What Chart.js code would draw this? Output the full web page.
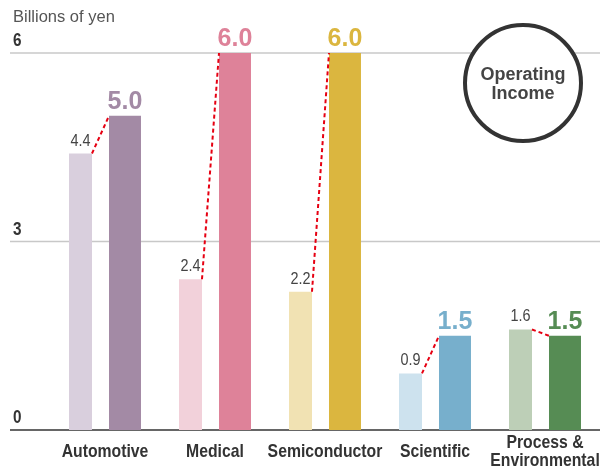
<!DOCTYPE html>
<html>
<head>
<meta charset="utf-8">
<script src="https://cdn.jsdelivr.net/npm/chart.js@4"></script>
<style>
  html, body { margin: 0; padding: 0; background: #fff; }
  #wrap { width: 612px; height: 471px; }
</style>
</head>
<body>
<div id="wrap"><canvas id="grafica"></canvas></div>
<script>
// datos
const categorias = ['Automotive', 'Medical', 'Semiconductor', 'Scientific', ['Process &', 'Environmental']];
const anterior = [4.4, 2.4, 2.2, 0.9, 1.6];
const actual = [5.0, 6.0, 6.0, 1.5, 1.5];
const ticksY = [0, 3, 6];

const coloresClaros = ['#d9cfdd', '#f2d1da', '#f1e2b3', '#cde2ee', '#bdcfb7'];
const coloresOscuros = ['#a38aa5', '#de8299', '#dbb63f', '#77afcc', '#568c54'];

const fuente = '"Liberation Sans", Arial, sans-serif';

// texto estrechado horizontalmente (no hay fuente condensada instalada)
function textoEstrecho(ctx, texto, x, y, escala) {
  ctx.save();
  ctx.translate(x, y);
  ctx.scale(escala, 1);
  ctx.fillText(texto, 0, 0);
  ctx.restore();
}

// fondo: rejilla, ticks y título del eje
const fondoPlugin = {
  id: 'fondo',
  beforeDatasetsDraw(chart) {
    const ctx = chart.ctx;
    const y = chart.scales.y;
    ctx.save();
    ticksY.forEach(function(v) {
      const py = y.getPixelForValue(v);
      ctx.beginPath();
      ctx.moveTo(10, py);
      ctx.lineTo(600, py);
      ctx.lineWidth = 1.5;
      ctx.strokeStyle = v === 0 ? '#333333' : '#c8c8c8';
      ctx.stroke();
      ctx.fillStyle = '#333333';
      ctx.font = 'bold 18px ' + fuente;
      ctx.textAlign = 'left';
      ctx.textBaseline = 'alphabetic';
      textoEstrecho(ctx, String(v), 13, py - 7, 0.85);
    });
    ctx.fillStyle = '#555555';
    ctx.font = '16.5px ' + fuente;
    ctx.textBaseline = 'middle';
    ctx.fillText('Billions of yen', 13, 17);
    ctx.restore();
  },
  afterDatasetsDraw(chart) {
    const ctx = chart.ctx;
    const x = chart.scales.x;
    const m0 = chart.getDatasetMeta(0).data;
    const m1 = chart.getDatasetMeta(1).data;
    ctx.save();
    // líneas rojas punteadas
    ctx.strokeStyle = '#e60012';
    ctx.lineWidth = 2;
    ctx.setLineDash([4, 3]);
    m0.forEach(function(b, i) {
      const c = m1[i];
      ctx.beginPath();
      ctx.moveTo(b.x + b.width / 2, b.y);
      ctx.lineTo(c.x - c.width / 2, c.y);
      ctx.stroke();
    });
    ctx.setLineDash([]);
    // etiquetas de valores
    ctx.textAlign = 'center';
    ctx.textBaseline = 'alphabetic';
    m0.forEach(function(b, i) {
      ctx.fillStyle = '#444444';
      ctx.font = '16px ' + fuente;
      textoEstrecho(ctx, anterior[i].toFixed(1), b.x, b.y - 8, 0.9);
      const c = m1[i];
      ctx.fillStyle = coloresOscuros[i];
      ctx.font = 'bold 25px ' + fuente;
      ctx.fillText(actual[i].toFixed(1), c.x, c.y - 7);
    });
    // etiquetas de categorías
    ctx.fillStyle = '#333333';
    ctx.font = 'bold 19px ' + fuente;
    ctx.textBaseline = 'middle';
    categorias.forEach(function(cat, i) {
      const px = x.getPixelForValue(i);
      if (Array.isArray(cat)) {
        textoEstrecho(ctx, cat[0], px, 443, 0.83);
        textoEstrecho(ctx, cat[1], px, 461, 0.83);
      } else {
        textoEstrecho(ctx, cat, px, 452, 0.83);
      }
    });
    // círculo "Operating Income"
    ctx.beginPath();
    ctx.arc(523, 83, 58, 0, Math.PI * 2);
    ctx.fillStyle = '#ffffff';
    ctx.fill();
    ctx.lineWidth = 4;
    ctx.strokeStyle = '#333333';
    ctx.stroke();
    ctx.fillStyle = '#444444';
    ctx.font = 'bold 18px ' + fuente;
    ctx.fillText('Operating', 523, 75);
    ctx.fillText('Income', 523, 94);
    ctx.restore();
  }
};

const ctx = document.getElementById('grafica').getContext('2d');
new Chart(ctx, {
  type: 'bar',
  data: {
    labels: categorias,
    datasets: [{
      label: 'Previous',
      data: anterior,
      backgroundColor: coloresClaros,
      categoryPercentage: 0.891,
      barPercentage: 0.469
    }, {
      label: 'Operating Income',
      data: actual,
      backgroundColor: coloresOscuros,
      categoryPercentage: 0.727,
      barPercentage: 0.8
    }]
  },
  options: {
    responsive: true,
    maintainAspectRatio: false,
    animation: false,
    layout: { padding: { left: 50, right: 12, top: 53, bottom: 41 } },
    plugins: { legend: { display: false }, tooltip: { enabled: false } },
    scales: {
      x: { display: false },
      y: { display: false, min: 0, max: 6 }
    }
  },
  plugins: [fondoPlugin]
});
</script>
</body>
</html>
